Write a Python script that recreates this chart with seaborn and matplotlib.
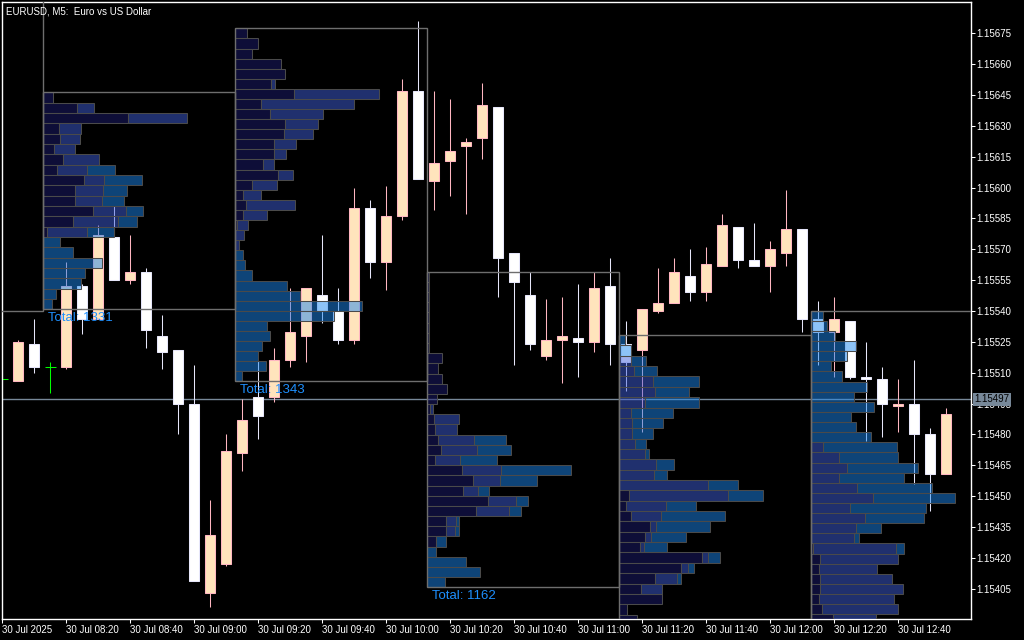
import numpy as np
import seaborn as sns
from matplotlib import pyplot as plt
from matplotlib.patches import Rectangle

# EURUSD M5 candles, 30 Jul 2025, one per 5 minutes from 08:00
opens  = [1.15507, 1.15506, 1.15524, 1.15513, 1.15513, 1.15552, 1.15536, 1.15576, 1.15555, 1.15559,
          1.15528, 1.15521, 1.15495, 1.15403, 1.15417, 1.15471, 1.15498, 1.15498, 1.15516, 1.15528,
          1.15548, 1.15540, 1.15526, 1.15590, 1.15564, 1.15586, 1.15647, 1.15603, 1.15613, 1.15620,
          1.15624, 1.15639, 1.15568, 1.15548, 1.15518, 1.15526, 1.15527, 1.15525, 1.15552, 1.15524,
          1.15521, 1.15540, 1.15544, 1.15557, 1.15549, 1.15562, 1.15581, 1.15565, 1.15562, 1.15568,
          1.15580, 1.15536, 1.15530, 1.15535, 1.15508, 1.15507, 1.15494, 1.15495, 1.15480, 1.15461]
highs  = [1.15508, 1.15526, 1.15536, 1.15515, 1.15564, 1.15553, 1.15582, 1.15591, 1.15577, 1.15561,
          1.15538, 1.15521, 1.15514, 1.15448, 1.15480, 1.15497, 1.15516, 1.15522, 1.15551, 1.15551,
          1.15577, 1.15551, 1.15600, 1.15594, 1.15601, 1.15653, 1.15681, 1.15647, 1.15643, 1.15624,
          1.15651, 1.15639, 1.15568, 1.15559, 1.15546, 1.15547, 1.15553, 1.15559, 1.15566, 1.15535,
          1.15541, 1.15561, 1.15566, 1.15570, 1.15571, 1.15587, 1.15581, 1.15583, 1.15574, 1.15599,
          1.15580, 1.15545, 1.15547, 1.15535, 1.15525, 1.15513, 1.15507, 1.15516, 1.15483, 1.15493]
lows   = [1.15506, 1.15506, 1.15510, 1.15500, 1.15512, 1.15529, 1.15536, 1.15555, 1.15553, 1.15522,
          1.15512, 1.15480, 1.15409, 1.15396, 1.15416, 1.15462, 1.15478, 1.15496, 1.15513, 1.15515,
          1.15534, 1.15524, 1.15524, 1.15556, 1.15550, 1.15584, 1.15604, 1.15589, 1.15596, 1.15587,
          1.15614, 1.15547, 1.15514, 1.15521, 1.15516, 1.15505, 1.15508, 1.15520, 1.15514, 1.15501,
          1.15481, 1.15539, 1.15544, 1.15545, 1.15545, 1.15562, 1.15561, 1.15562, 1.15549, 1.15562,
          1.15530, 1.15514, 1.15508, 1.15507, 1.15477, 1.15479, 1.15481, 1.15456, 1.15443, 1.15461]
closes = [1.15507, 1.15525, 1.15513, 1.15513, 1.15552, 1.15536, 1.15577, 1.15555, 1.15559, 1.15531,
          1.15520, 1.15495, 1.15409, 1.15431, 1.15472, 1.15487, 1.15489, 1.15516, 1.15530, 1.15551,
          1.15540, 1.15526, 1.15590, 1.15564, 1.15586, 1.15647, 1.15604, 1.15612, 1.15618, 1.15622,
          1.15640, 1.15566, 1.15554, 1.15524, 1.15526, 1.15528, 1.15525, 1.15551, 1.15524, 1.15515,
          1.15541, 1.15544, 1.15559, 1.15549, 1.15563, 1.15582, 1.15565, 1.15562, 1.15570, 1.15580,
          1.15536, 1.15530, 1.15536, 1.15508, 1.15507, 1.15495, 1.15495, 1.15480, 1.15461, 1.15490]

time_labels = ['30 Jul 2025', '30 Jul 08:20', '30 Jul 08:40', '30 Jul 09:00', '30 Jul 09:20',
               '30 Jul 09:40', '30 Jul 10:00', '30 Jul 10:20', '30 Jul 10:40', '30 Jul 11:00',
               '30 Jul 11:20', '30 Jul 11:40', '30 Jul 12:00', '30 Jul 12:20', '30 Jul 12:40']
price_ticks = [1.15405, 1.15420, 1.15435, 1.15450, 1.15465, 1.15480, 1.15495, 1.15510, 1.15525,
               1.15540, 1.15555, 1.15570, 1.15585, 1.15600, 1.15615, 1.15630, 1.15645, 1.15660, 1.15675]
bid = 1.15497

# hourly volume profiles (bar offset of box start, price range, per-row volume split in 3 parts)
prof_left   = [2.54, 14.54, 26.54, 38.54, 50.54]
prof_top    = [1.156463, 1.156774, 1.155591, 1.155283, 1.155401]
prof_bottom = [1.155408, 1.155058, 1.154057, 1.153874, 1.153877]
prof_total  = [1331, 1343, 1162]
prof_dark = [
    [10, 34, 84, 16, 17, 11, 20, 14, 41, 32, 32, 50, 30, 4, 0, 0, 0, 0, 0, 0, 0],
    [12, 23, 17, 46, 50, 36, 59, 26, 35, 50, 49, 39, 39, 28, 43, 17, 8, 11, 8, 2, 0, 0,
     0, 0, 0, 0, 0, 0, 0, 0, 0, 0, 0, 0, 0],
    [2, 2, 2, 2, 2, 2, 2, 2, 15, 11, 15, 20, 10, 3, 7, 8, 11, 14, 8, 35, 45, 36, 60, 48,
     19, 19, 9, 0, 0, 0, 0],
    [0, 0, 0, 0, 0, 0, 0, 0, 0, 0, 0, 0, 0, 0, 0, 10, 7, 12, 31, 26, 21, 83, 62, 36, 22, 43, 8, 18],
    [0, 0, 0, 0, 0, 0, 0, 0, 0, 0, 0, 0, 0, 0, 0, 0, 0, 0, 0, 0, 0, 0, 0, 2, 9, 8, 9, 9, 8, 11, 22],
]
prof_med = [
    [0, 17, 59, 22, 20, 21, 36, 30, 20, 28, 27, 32, 45, 40, 0, 0, 0, 0, 0, 0, 0],
    [0, 0, 0, 0, 0, 4, 84, 92, 52, 32, 28, 22, 12, 11, 15, 25, 18, 49, 24, 11, 9, 4,
     0, 0, 0, 0, 0, 0, 0, 0, 0, 0, 0, 0, 0],
    [0, 0, 0, 0, 0, 0, 0, 0, 0, 0, 0, 0, 0, 3, 25, 22, 35, 35, 25, 38, 27, 14, 28, 33,
     10, 9, 0, 0, 0, 0, 0],
    [0, 0, 12, 15, 34, 36, 26, 12, 13, 13, 16, 26, 37, 35, 89, 99, 40, 30, 6, 6, 4, 6, 7, 22, 21, 0, 0, 0],
    [0, 0, 0, 0, 0, 0, 0, 0, 0, 0, 0, 0, 0, 12, 28, 36, 28, 46, 62, 39, 54, 45, 43, 82, 77, 58, 71,
     82, 74, 75, 43],
]
prof_teal = [
    [0, 0, 0, 0, 0, 0, 0, 28, 37, 23, 21, 17, 18, 27, 17, 30, 59, 42, 38, 13, 9],
    [0, 0, 0, 0, 0, 0, 0, 0, 0, 0, 0, 0, 0, 0, 0, 0, 0, 0, 0, 0, 0, 0,
     8, 10, 17, 52, 65, 126, 98, 32, 35, 27, 23, 31, 7],
    [0, 0, 0, 0, 0, 0, 0, 0, 0, 0, 0, 0, 0, 0, 0, 0, 32, 34, 36, 69, 36, 11, 12, 12,
     3, 4, 10, 9, 38, 52, 18],
    [6, 12, 15, 23, 46, 34, 54, 42, 31, 21, 11, 4, 18, 13, 30, 35, 30, 64, 54, 35, 23, 12, 6, 4, 0, 0, 0, 0],
    [12, 16, 24, 45, 36, 20, 31, 56, 43, 63, 40, 45, 60, 73, 58, 70, 64, 74, 81, 75, 58, 25, 5, 8,
     0, 0, 0, 0, 0, 0, 0],
]

sns.set_theme(style="dark", rc={"axes.facecolor": "black", "figure.facecolor": "black"})
plt.rcParams['font.family'] = ['Liberation Sans', 'DejaVu Sans']

fig = plt.figure(figsize=(10.24, 6.4), dpi=100)
ax = fig.add_axes([2/1024, 21/640, 969/1024, 617/640])
ax.set_facecolor('black')
ax.grid(False)

# candles
x = np.arange(len(opens))
o, h, l, c = map(np.array, (opens, highs, lows, closes))
up = c > o
dn = c < o
dj = c == o
wick_col = np.where(up, '#FFB6C1', np.where(dn, '#E6E6FA', '#00FF00'))
ax.vlines(x, l, h, colors=wick_col, lw=0.75, zorder=2)
ax.bar(x[up], (c - o)[up], bottom=o[up], width=0.62, color='#FFE4BC',
       edgecolor='#FFB6C1', lw=0.75, zorder=2.1)
ax.bar(x[dn], (o - c)[dn], bottom=c[dn], width=0.62, color='white',
       edgecolor='#E6E6FA', lw=0.75, zorder=2.1)
ax.hlines(o[dj], x[dj] - 0.33, x[dj] + 0.33, colors='#00FF00', lw=0.75, zorder=2.1)

# volume profiles, half transparent over the candles
seg_cols = [(28/255, 28/255, 112/255, 0.5), (64/255, 96/255, 220/255, 0.5), (28/255, 136/255, 240/255, 0.5)]
box_col = '#6E6E6E'
for i in range(len(prof_left)):
    d, m, t = map(np.array, (prof_dark[i], prof_med[i], prof_teal[i]))
    n = len(d)
    rh = (prof_top[i] - prof_bottom[i]) / n
    yc = prof_top[i] - rh * (np.arange(n) + 0.5)
    scale = 9 / (d + m + t).max()
    left = prof_left[i]
    for vals, start, col in [(d, 0 * d, seg_cols[0]), (m, d, seg_cols[1]), (t, d + m, seg_cols[2])]:
        k = vals > 0
        ax.barh(yc[k], vals[k] * scale, left=left + start[k] * scale, height=rh,
                color=col, edgecolor='#4A4A4A', lw=0.75, zorder=3)
    ax.add_patch(Rectangle((left, prof_bottom[i]), 12, prof_top[i] - prof_bottom[i],
                           fill=False, ec=box_col, lw=1, zorder=3.5))
    if i < len(prof_total):
        ax.annotate(f'Total: {prof_total[i]}', xy=(left, prof_bottom[i]), xytext=(3.6, -6.5),
                    textcoords='offset points', color='#1E90FF', fontsize=9.5,
                    va='center', ha='left', zorder=4)

# previous hour box, mostly off screen
ax.add_patch(Rectangle((prof_left[0] - 12, 1.155400), 12, 0.002, fill=False, ec=box_col, lw=1, zorder=3.5))

# bid line
ax.axhline(bid, color='#778899', lw=1, zorder=1)
ax.text(1.0035, bid, f'{bid:.5f}', transform=ax.get_yaxis_transform(), color='black', fontsize=7,
        va='center', ha='left', zorder=10, clip_on=False,
        bbox=dict(fc='#778899', ec='none', pad=1.2))

ax.set_xlim(-0.02, 60.54)
ax.set_ylim(1.153903, 1.156902)

ax.yaxis.tick_right()
ax.set_yticks(price_ticks)
ax.set_yticklabels([f'{v:.5f}' for v in price_ticks])
ax.set_xticks(np.arange(0, 4 * len(time_labels), 4))
ax.set_xticklabels(time_labels, ha='left')
ax.tick_params(axis='y', colors='white', direction='out', length=3, width=0.75, pad=1, labelsize=7,
               left=False, right=True)
ax.tick_params(axis='x', colors='white', direction='out', length=3, width=0.75, pad=1.5, labelsize=7,
               bottom=True)
for s in ax.spines.values():
    s.set_color('white')
    s.set_linewidth(1)
    s.set_visible(True)

fig.text(6/1024, 1 - 12/640, 'EURUSD, M5:  Euro vs US Dollar', color='white', fontsize=7, va='center')

fig.savefig('out.png', dpi=100, facecolor='black')
